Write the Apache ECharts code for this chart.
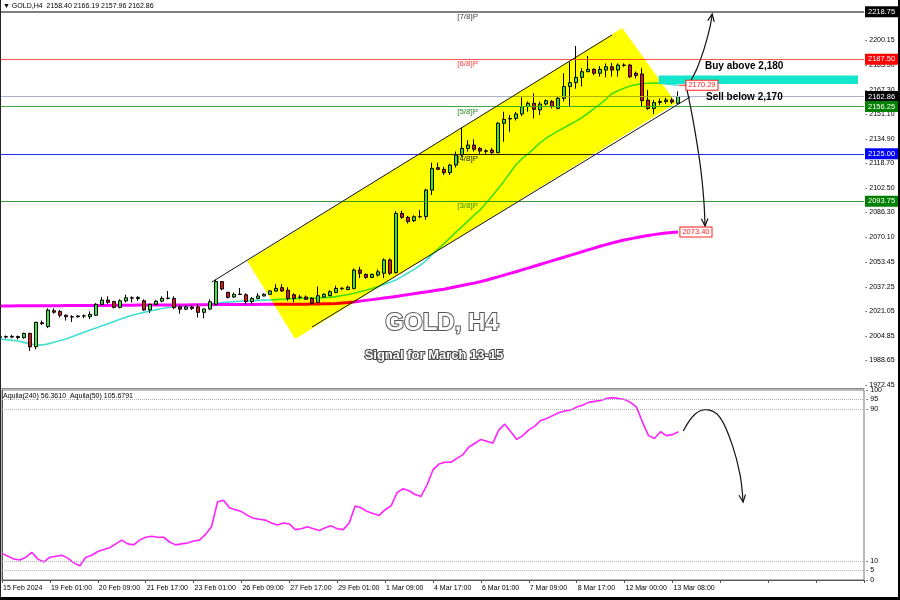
<!DOCTYPE html>
<html><head><meta charset="utf-8">
<script src="https://cdn.jsdelivr.net/npm/echarts@6/dist/echarts.min.js"></script>
<style>html,body{margin:0;padding:0;background:#fff}#c{width:900px;height:600px}</style>
</head><body><div id="c"></div>
<script>
// ---------- DATA ----------
const tickLabels = ['15 Feb 2024','19 Feb 01:00','20 Feb 09:00','21 Feb 17:00','23 Feb 01:00','26 Feb 09:00','27 Feb 17:00','29 Feb 01:00','1 Mar 09:00','4 Mar 17:00','6 Mar 01:00','7 Mar 09:00','8 Mar 17:00','12 Mar 00:00','13 Mar 08:00'];
const priceTicks = [1972.45,1988.65,2004.85,2021.05,2037.25,2053.45,2070.10,2086.30,2102.50,2118.70,2134.90,2151.10,2167.30,2183.50,2200.15];
const oscTicks = [0,5,10,90,95,100];
const oscLevels = [5,10,90,95];

const opens = [2004.0,2004.4,2004.1,2004.5,2003.7,2006.5,1997.7,2013.5,2011.0,2021.5,
2021.0,2018.5,2017.5,2017.5,2018.0,2017.5,2018.5,2025.7,2028.5,2027.5,
2023.7,2028.0,2030.0,2029.5,2028.0,2022.0,2025.7,2027.8,2029.6,2029.6,
2024.0,2022.5,2024.0,2024.0,2020.4,2022.6,2025.7,2040.7,2033.6,2030.5,
2032.2,2032.0,2027.5,2029.6,2031.2,2032.3,2034.5,2036.7,2035.0,2032.0,
2030.5,2030.5,2029.6,2027.0,2030.5,2031.4,2033.6,2036.0,2035.5,2036.2,
2048.3,2045.5,2043.5,2045.0,2046.2,2055.0,2046.6,2085.7,2083.1,2080.9,
2083.5,2083.6,2101.1,2115.9,2114.8,2112.6,2117.6,2124.2,2128.6,2130.8,
2128.6,2127.0,2127.5,2125.8,2145.2,2148.0,2148.4,2151.3,2156.2,2158.4,
2154.0,2157.9,2159.5,2155.0,2161.7,2169.4,2172.0,2175.5,2179.2,2180.8,
2178.2,2180.3,2182.5,2180.3,2183.6,2183.6,2178.2,2177.7,2160.5,2155.0,
2159.0,2159.5,2160.6,2158.40];
const closes = [2004.4,2004.1,2004.5,2003.8,2006.5,1997.7,2013.8,2013.0,2021.9,2020.5,
2018.5,2017.5,2017.3,2018.0,2018.1,2019.0,2025.7,2028.5,2027.0,2023.7,
2028.0,2030.0,2029.8,2030.3,2022.0,2025.7,2027.8,2029.6,2029.8,2023.5,
2022.5,2024.0,2023.0,2020.4,2022.6,2027.4,2040.7,2035.8,2030.3,2032.3,
2032.4,2027.5,2029.6,2031.2,2032.3,2034.5,2036.2,2034.5,2029.6,2029.6,
2030.3,2029.0,2026.4,2031.4,2032.3,2034.0,2036.2,2036.3,2037.0,2048.3,
2046.2,2043.5,2045.5,2047.2,2055.0,2046.2,2085.7,2083.1,2080.3,2083.5,
2083.6,2101.1,2115.4,2114.8,2112.6,2117.6,2124.2,2128.6,2130.8,2128.0,
2126.9,2126.7,2125.8,2145.2,2147.8,2148.4,2151.3,2156.2,2158.4,2154.4,
2157.9,2160.1,2156.2,2161.7,2169.4,2172.0,2175.5,2179.2,2180.8,2178.2,
2180.8,2182.5,2180.3,2183.6,2183.4,2175.9,2176.8,2160.1,2155.0,2158.8,
2159.5,2160.6,2159.2,2162.86];
const lows = [2003.0,2003.2,2003.3,2002.5,2003.0,1995.0,1996.0,2012.0,2010.0,2019.5,
2017.0,2015.0,2014.0,2017.0,2016.5,2016.0,2018.0,2025.0,2026.0,2023.0,
2023.0,2027.0,2027.0,2028.0,2021.5,2020.0,2025.0,2027.0,2029.0,2022.5,
2019.5,2022.0,2022.0,2017.0,2016.5,2022.0,2025.0,2035.0,2029.5,2030.0,
2032.0,2025.5,2025.5,2029.0,2031.0,2032.0,2034.0,2034.0,2028.0,2027.0,
2029.0,2028.5,2025.5,2027.0,2030.0,2031.0,2033.0,2035.0,2035.0,2035.5,
2043.0,2042.5,2043.0,2044.0,2043.0,2045.0,2046.0,2082.0,2079.0,2080.0,
2082.5,2081.5,2097.9,2114.3,2111.0,2111.0,2116.0,2123.0,2126.5,2126.5,
2125.0,2125.0,2125.0,2125.5,2133.0,2139.6,2147.0,2150.0,2152.8,2148.4,
2150.6,2157.0,2155.0,2154.4,2159.5,2156.0,2168.0,2169.4,2179.0,2177.0,
2176.0,2175.5,2176.0,2176.0,2182.5,2175.0,2174.8,2156.0,2154.0,2151.3,
2157.2,2158.0,2158.0,2157.96];
const highs = [2005.5,2005.2,2005.6,2005.0,2007.0,2007.0,2014.3,2015.0,2023.0,2023.0,
2022.0,2019.0,2018.5,2018.5,2019.0,2021.0,2026.5,2030.6,2031.0,2028.0,
2029.0,2032.0,2031.0,2031.0,2029.0,2026.0,2028.5,2031.0,2034.5,2031.0,
2025.0,2025.0,2025.0,2026.0,2023.0,2029.0,2042.0,2041.0,2034.0,2033.5,
2036.5,2033.0,2030.5,2033.0,2033.0,2035.0,2039.0,2039.0,2037.0,2033.0,
2032.0,2031.5,2030.5,2037.5,2033.0,2035.0,2038.0,2037.0,2038.0,2049.4,
2050.5,2046.0,2046.0,2048.8,2056.0,2056.0,2087.2,2087.5,2084.0,2084.5,
2088.0,2102.0,2119.2,2119.2,2116.5,2118.5,2126.5,2142.5,2134.0,2134.6,
2129.5,2128.0,2129.0,2146.0,2152.8,2150.6,2152.6,2162.3,2159.5,2165.0,
2159.5,2161.0,2160.5,2163.2,2178.2,2185.8,2196.2,2181.5,2189.6,2181.5,
2183.0,2184.7,2185.0,2184.7,2184.7,2184.5,2179.3,2181.5,2167.2,2160.5,
2161.6,2162.0,2162.0,2166.19];
const maFast = [2002.8,2002.4,2002.0,2001.5,2000.6,1999.7,1998.9,1998.8,1999.6,2000.7,
2001.8,2002.8,2004.3,2005.8,2007.3,2008.7,2010.0,2011.5,2012.9,2014.3,
2015.8,2017.2,2018.5,2019.5,2020.4,2021.3,2022.1,2022.9,2023.6,2024.1,
2024.4,2024.7,2025.0,2025.25,2025.6,2026.0,2026.4,2026.8,2027.2,2027.5,
2027.7,2027.9,2028.1,2028.3,2028.45,2028.55,2028.8,2029.0,2029.2,2029.4,
2029.6,2029.7,2029.8,2029.9,2030.1,2030.3,2030.8,2031.5,2032.2,2033.0,
2034.0,2035.0,2036.1,2037.4,2038.8,2040.3,2041.8,2044.0,2046.4,2048.8,
2051.3,2054.5,2058.5,2062.2,2065.8,2069.5,2073.3,2077.0,2080.8,2084.5,
2087.9,2092.4,2097.0,2102.0,2107.0,2112.5,2117.8,2121.8,2125.0,2128.6,
2132.2,2135.3,2137.7,2140.0,2142.2,2144.4,2146.6,2149.0,2151.8,2154.8,
2157.9,2161.2,2164.8,2166.6,2168.3,2169.8,2170.6,2171.3,2171.6,2171.7,
2171.6,2171.2,2170.8,2170.29];
const maSlow = [2024.6,2024.6,2024.6,2024.7,2024.7,2024.7,2024.7,2024.8,2024.8,2024.8,
2024.8,2024.9,2024.9,2024.9,2024.9,2025.0,2025.0,2025.0,2025.0,2025.1,
2025.1,2025.1,2025.1,2025.2,2025.2,2025.2,2025.2,2025.3,2025.3,2025.3,
2025.3,2025.3,2025.4,2025.4,2025.4,2025.4,2025.5,2025.5,2025.5,2025.5,
2025.6,2025.6,2025.6,2025.6,2025.7,2025.7,2025.7,2025.7,2025.8,2025.8,
2025.8,2025.8,2025.9,2025.9,2026.0,2026.1,2026.3,2026.6,2026.9,2027.3,
2027.8,2028.3,2028.8,2029.3,2029.8,2030.3,2030.9,2031.5,2032.1,2032.7,
2033.3,2033.9,2034.5,2035.1,2035.7,2036.5,2037.3,2038.1,2038.9,2039.7,
2040.6,2041.6,2042.7,2043.8,2045.0,2046.1,2047.2,2048.4,2049.6,2050.8,
2052.0,2053.2,2054.4,2055.6,2056.8,2058.0,2059.2,2060.4,2061.6,2062.8,
2064.0,2065.1,2066.2,2067.2,2068.1,2068.9,2069.7,2070.4,2071.1,2071.7,
2072.3,2072.8,2073.1,2073.40];
const aquila = [14,12.5,11,10.5,12,14.5,11,9.5,12,12.5,
13,11.5,9,7.5,12,13,15,16,17,19,
21,19,18.5,21,22.5,23,22.5,22.5,20,18.5,
19,19.5,20.5,21,24,28,41,42,38,37,
36,34,32.5,32,31.5,30,29,30,29.5,26.5,
27,28,27,26,27.5,28.5,27,26.5,30,39,
38,36,35,34,37,39,46,48,47,45,
44,50,58,61,62,62,64,66,70,72,
74,73,72,79,82,78,74,76,79,81,
84,85,86.5,88,89,89.5,91,92,93.5,94,
94.5,95.5,96,95.5,95,93.5,91,83,76,74.5,
78,76,76.5,78];

const levelValues = [2218.75,2187.50,2162.86,2156.25,2125.00,2093.75];
const murreyNames = ['[7/8]P','[6/8]P','[5/8]P','[4/8]P','[3/8]P'];
const murreyValues = [2218.75,2187.50,2156.25,2125.00,2093.75];
const murreyLabelBar = 76.2;
const maLabelValue = 2170.29;
const slowLabelValue = 2073.40;
// annotation anchors in (bar, price) / (bar, oscillator) units
const bandCorners = [[41.2,2054.3],[103.7,2208.1],[112.7,2158.6],[49.2,2002.8]];
const channelUpper = [[35.3,2040.4],[102.0,2203.5]];
const channelLower = [[52.0,2010.7],[115.0,2162.5]];
const buyZone = [[109.8,2176.7],[143.0,2171.1]];
const upArrow = [[115.2,2173.8],[116.2,2181.7],[117.3,2193.6],[118.3,2208.1],[118.7,2217.3]];
const downArrow = [[114.3,2171.1],[115.5,2147.4],[116.7,2117.7],[117.3,2094.6],[117.5,2077.4]];
const oscArrow = [[113.8,78.4],[115.8,87.4],[118,89.5],[120,85.3],[122,71],[123.3,55.3],[123.8,41]];

// ---------- STYLE ----------
const FONT = '"Liberation Sans", Arial, sans-serif';
const BAND_COLOR = '#ffff00';
const levelLineColors = ['#7f7f7f','#ff5050','#a8b4c8','#3cae3c','#2525ff','#3a9a3a'];
const levelLineWidths = [2,1,1,1,1,1];
const levelBoxColors = ['#000000','#ff0000','#000000','#008000','#0000ff','#008000'];
const murreyColors = ['#444444','#ff4040','#2a8a2a','#2020ff','#2a8a2a'];

const chart = echarts.init(document.getElementById('c'), null, {renderer:'canvas', width:900, height:600, devicePixelRatio:1});

function arrowEl(api, arr) {
  const P = arr.map(p => api.coord(p));
  const n = P.length, a = P[n-1], b = P[n-2];
  const ang = Math.atan2(a[1]-b[1], a[0]-b[0]);
  const L = 8, s = 0.42;
  const h1 = [a[0]-L*Math.cos(ang-s), a[1]-L*Math.sin(ang-s)];
  const h2 = [a[0]-L*Math.cos(ang+s), a[1]-L*Math.sin(ang+s)];
  return {type:'group', children:[
    {type:'polyline', shape:{points:P, smooth:0.35}, style:{stroke:'#111', lineWidth:1.2, fill:null}},
    {type:'polyline', shape:{points:[h1,a,h2]}, style:{stroke:'#111', lineWidth:1.2, fill:null}}
  ]};
}
function segEl(api, arr, color) {
  const a = api.coord(arr[0]), b = api.coord(arr[1]);
  return {type:'line', shape:{x1:a[0], y1:a[1], x2:b[0], y2:b[1]}, style:{stroke:color, lineWidth:1}};
}
function priceBox(api, bar, value, color) {
  const p = api.coord([bar, value]);
  return {type:'text', x:p[0], y:p[1], style:{text:value.toFixed(2), fill:color, font:'7.5px '+FONT,
    align:'left', verticalAlign:'middle', backgroundColor:'#fff', borderColor:color, borderWidth:1, padding:[1,2,0,2]}};
}

const option = {
  backgroundColor:'#ffffff',
  animation:false,
  textStyle:{fontFamily:FONT},
  grid:[
    {left:0, right:36, top:2, height:386},
    {left:0, right:36, top:390, height:190, show:true, borderColor:'#777', borderWidth:1}
  ],
  xAxis:[
    {gridIndex:0, type:'value', min:0, max:144, interval:8, axisLine:{show:true, lineStyle:{color:'#888'}},
     axisTick:{show:false}, axisLabel:{show:false}, splitLine:{show:false}},
    {gridIndex:1, type:'value', min:0, max:144, interval:8, axisLine:{show:true, lineStyle:{color:'#555'}},
     axisTick:{show:true, length:3, lineStyle:{color:'#555'}},
     axisLabel:{show:true, fontSize:7, color:'#000', align:'left', margin:5, padding:[0,0,0,1],
       formatter: v => (v % 8 === 0 && tickLabels[v/8]) ? tickLabels[v/8] : ''},
     splitLine:{show:false}}
  ],
  yAxis:[
    {gridIndex:0, type:'value', position:'right', min:1970.47, max:2225.23, scale:true,
     axisLine:{show:true, lineStyle:{color:'#555'}},
     axisTick:{show:false},
     axisLabel:{customValues:priceTicks, fontSize:7, color:'#000', margin:1, formatter: v => '- ' + v.toFixed(2)},
     splitLine:{show:false}},
    {gridIndex:1, type:'value', position:'right', min:0, max:100,
     axisLine:{show:true, lineStyle:{color:'#555'}},
     axisTick:{show:false},
     axisLabel:{customValues:oscTicks, fontSize:7, color:'#000', margin:2, formatter: v => '- ' + v},
     splitLine:{show:false}}
  ],
  series:[
    {type:'candlestick', name:'GOLD', xAxisIndex:0, yAxisIndex:0, z:2,
     data: opens.map((o,i) => [i, o, closes[i], lows[i], highs[i]]),
     encode:{x:0, y:[1,2,3,4]}, barWidth:4,
     itemStyle:{color:'#33ee33', color0:'#ee1111', borderColor:'#000', borderColor0:'#000', borderWidth:1},
     markLine:{silent:true, symbol:['none','none'], animation:false,
       data: levelValues.map((v,k) => ({yAxis:v,
         lineStyle:{color:levelLineColors[k], width:levelLineWidths[k], type:'solid'},
         label:{show:true, position:'end', distance:1, formatter: () => v.toFixed(2), color:'#fff',
           fontSize:7.5, fontFamily:FONT, backgroundColor:levelBoxColors[k], padding:[2,3,1,3]}}))}
    },
    {type:'line', name:'MA fast', xAxisIndex:0, yAxisIndex:0, z:2, showSymbol:false, symbol:'none',
     data: maFast.map((v,i) => [i,v]), lineStyle:{color:'#40e0d0', width:1.6}},
    {type:'line', name:'MA slow', xAxisIndex:0, yAxisIndex:0, z:2, showSymbol:false, symbol:'none',
     data: maSlow.map((v,i) => [i,v]), lineStyle:{color:'#ff00ff', width:3}},
    {type:'custom', name:'murrey', xAxisIndex:0, yAxisIndex:0, z:3, silent:true,
     data: murreyValues.map(v => [murreyLabelBar, v]),
     renderItem:(params, api) => {
       const k = params.dataIndex;
       const p = api.coord([murreyLabelBar, murreyValues[k]]);
       return {type:'text', x:p[0], y:p[1]+1, style:{text:murreyNames[k], fill:murreyColors[k], font:'8px '+FONT, align:'left', verticalAlign:'top'}};
     }},
    {type:'custom', name:'band', xAxisIndex:0, yAxisIndex:0, z:10, silent:true,
     data:[[bandCorners[0][0], bandCorners[0][1]]],
     renderItem:(params, api) => ({type:'polygon', name:'yellowBand', shape:{points: bandCorners.map(p => api.coord(p))},
       style:{fill:BAND_COLOR, blend:'multiply'}})},
    {type:'custom', name:'annotations', xAxisIndex:0, yAxisIndex:0, z:11, silent:true,
     data:[[buyZone[0][0], buyZone[0][1]]],
     renderItem:(params, api) => {
       const a = api.coord(buyZone[0]), b = api.coord(buyZone[1]);
       return {type:'group', children:[
         segEl(api, channelUpper, '#111'),
         segEl(api, channelLower, '#111'),
         {type:'rect', shape:{x:a[0], y:a[1], width:b[0]-a[0], height:b[1]-a[1]}, style:{fill:'#14e8cc'}},
         arrowEl(api, upArrow),
         arrowEl(api, downArrow),
         segEl(api, [[113.1, maLabelValue],[114.4, maLabelValue]], '#ff2020'),
         priceBox(api, 114.4, maLabelValue, '#ff2020'),
         priceBox(api, 113.4, slowLabelValue, '#ff2020')
       ]};
     }},
    {type:'line', name:'Aquila', xAxisIndex:1, yAxisIndex:1, z:2, showSymbol:false, symbol:'none',
     data: aquila.map((v,i) => [i,v]), lineStyle:{color:'#ff22ff', width:1.6},
     markLine:{silent:true, symbol:['none','none'], label:{show:false},
       data: oscLevels.map(v => ({yAxis:v})), lineStyle:{color:'#b0b0b0', type:'dotted', width:1}}},
    {type:'custom', name:'oscArrow', xAxisIndex:1, yAxisIndex:1, z:11, silent:true,
     data:[[oscArrow[0][0], oscArrow[0][1]]],
     renderItem:(params, api) => arrowEl(api, oscArrow)}
  ],
  graphic:[
    {type:'text', left:3, top:3, z:20, style:{text:'▼ GOLD,H4  2158.40 2166.19 2157.96 2162.86', fill:'#000', font:'7px '+FONT}},
    {type:'text', left:3, top:393, z:20, style:{text:'Aquila(240) 56.3610  Aquila(50) 105.6791', fill:'#000', font:'7px '+FONT}},
    {type:'text', x:705, y:66, z:20, style:{text:'Buy above 2,180', fill:'#000', font:'bold 10px '+FONT, align:'left', verticalAlign:'middle'}},
    {type:'text', x:706, y:97, z:20, style:{text:'Sell below 2,170', fill:'#000', font:'bold 10px '+FONT, align:'left', verticalAlign:'middle'}},
    {type:'text', x:442, y:323, z:20, style:{text:'GOLD, H4', fill:'#fff', stroke:'#555', lineWidth:2, font:'bold 24px '+FONT,
      align:'center', verticalAlign:'middle', shadowColor:'rgba(0,0,0,0.55)', shadowBlur:2, shadowOffsetX:2, shadowOffsetY:2}},
    {type:'text', x:434, y:355, z:20, style:{text:'Signal for March 13-15', fill:'#fff', stroke:'#444', lineWidth:2, font:'bold 13px '+FONT,
      align:'center', verticalAlign:'middle', shadowColor:'rgba(0,0,0,0.5)', shadowBlur:1, shadowOffsetX:1, shadowOffsetY:1}},
    {type:'line', z:20, shape:{x1:0.5, y1:0, x2:0.5, y2:600}, style:{stroke:'#222', lineWidth:1}},
    {type:'line', z:20, shape:{x1:899, y1:0, x2:899, y2:600}, style:{stroke:'#000', lineWidth:2}},
    {type:'line', z:20, shape:{x1:0, y1:598.5, x2:900, y2:598.5}, style:{stroke:'#000', lineWidth:3}}
  ]
};
chart.setOption(option);

// The channel band is an MT4-style background object: it tints what lies under it (multiply).
function applyBandBlend() {
  const zr = chart.getZr();
  const list = zr.storage.getDisplayList(true);
  let changed = false;
  list.forEach(el => {
    const f = el.style && el.style.fill;
    if (typeof f === 'string' && f.toLowerCase() === BAND_COLOR && el.style.blend !== 'multiply') {
      el.style.blend = 'multiply';
      if (el.markRedraw) el.markRedraw(); else if (el.dirty) el.dirty();
      changed = true;
    }
  });
  if (changed) zr.refreshImmediately();
}
applyBandBlend();
chart.on('finished', applyBandBlend);
</script></body></html>
